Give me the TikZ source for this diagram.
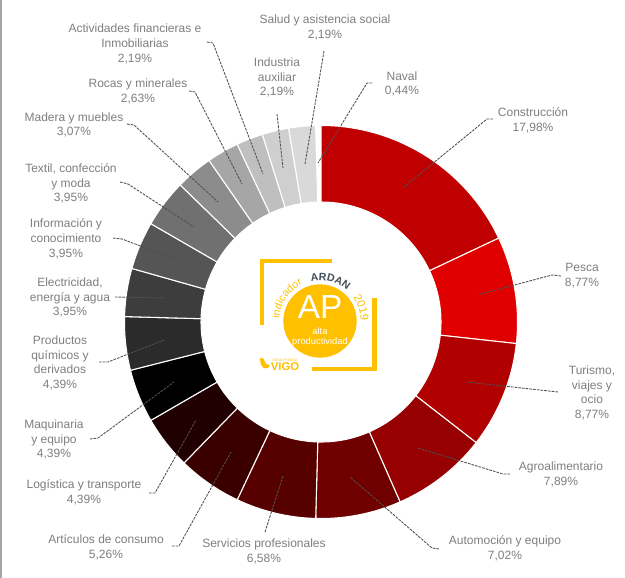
\documentclass[tikz,border=0pt]{standalone}
\usepackage{fontspec}
\setmainfont{Liberation Sans}
\usetikzlibrary{decorations.text}
\definecolor{labelgray}{HTML}{7F7F7F}
\definecolor{leadergray}{HTML}{505050}
\definecolor{logoY}{HTML}{FFC000}
\definecolor{logoD}{HTML}{44505A}
\tikzset{
  lab/.style={align=center,inner sep=0pt,text=labelgray,font=\fontsize{9}{11}\selectfont},
  leader/.style={draw=leadergray,line width=0.65pt,dash pattern=on 2pt off 0.8pt},
  frame/.style={fill=logoY,draw=none},
  sliceedge/.style={draw=white,line width=0.8pt},
}
% start %, end %, colour
\newcommand{\ringseg}[3]{%
  \definecolor{slicefill}{HTML}{#3}%
  \pgfmathsetmacro{\aa}{90-3.6*#1}%
  \pgfmathsetmacro{\bb}{90-3.6*#2}%
  \filldraw[sliceedge,fill=slicefill] (\aa:90pt) -- (\aa:147.4pt)
    arc[start angle=\aa,end angle=\bb,radius=147.4pt] -- (\bb:90pt)
    arc[start angle=\bb,end angle=\aa,radius=90pt] -- cycle;}
\begin{document}
\begin{tikzpicture}[x=.75pt,y=-.75pt]
\useasboundingbox (0,0) rectangle (625,578);
\fill[white] (0,0) rectangle (625,578);
\fill[gray!70] (0,0) rectangle (1.5,578);
% ring
\begin{scope}[shift={(321,322)},x=.75pt,y=.75pt]
\ringseg{0}{17.98}{C00000}
\ringseg{17.98}{26.75}{E00000}
\ringseg{26.75}{35.52}{B00000}
\ringseg{35.52}{43.41}{960000}
\ringseg{43.41}{50.43}{700000}
\ringseg{50.43}{57.01}{560000}
\ringseg{57.01}{62.27}{3A0000}
\ringseg{62.27}{66.66}{200000}
\ringseg{66.66}{71.05}{000000}
\ringseg{71.05}{75.44}{2B2B2B}
\ringseg{75.44}{79.39}{3D3D3D}
\ringseg{79.39}{83.34}{555555}
\ringseg{83.34}{87.29}{707070}
\ringseg{87.29}{90.36}{8C8C8C}
\ringseg{90.36}{92.99}{A6A6A6}
\ringseg{92.99}{95.18}{BFBFBF}
\ringseg{95.18}{97.37}{CFCFCF}
\ringseg{97.37}{99.56}{D9D9D9}
\end{scope}
% logo
\fill[frame] (260,259) rectangle (332,263);
\fill[frame] (260,259) rectangle (264,325);
\fill[frame] (372,298) rectangle (377,371);
\fill[frame] (312,367) rectangle (377,371);
\node[circle,fill=logoY,minimum size=55pt,inner sep=0pt] (disc) at (320,321) {};
\node[inner sep=0pt,text=white,font=\fontsize{25}{25}\selectfont] (ap) at (320,307) {AP};
\node[inner sep=0pt,text=white,font=\fontsize{7}{7.6}\selectfont,align=center] (alta) at (320,337) {alta\\productividad};
\begin{scope}[shift={(320,321)},x=.75pt,y=.75pt]
\path[decorate,decoration={text along path,text align=center,text={|\fontsize{8}{9}\selectfont\color{logoY}|indicador}}]
  (196:30.5pt) arc[start angle=196,end angle=96,radius=30.5pt];
\path[decorate,decoration={text along path,text align=center,text={|\fontsize{8}{9}\selectfont\bfseries\color{logoD}|ARDAN}}]
  (125:30.5pt) arc[start angle=125,end angle=26,radius=30.5pt];
\path[decorate,decoration={text along path,text align=center,text={|\fontsize{8.5}{9}\selectfont\color{logoY}|2019}}]
  (68:30.5pt) arc[start angle=68,end angle=-32,radius=30.5pt];
\end{scope}
\fill[logoY] (260,358) .. controls (268,358) and (261,364) .. (270,365)
  .. controls (268,371) and (260,370) .. (260,358) -- cycle;
\node[inner sep=0pt,text=logoY,font=\fontsize{2.6}{3}\selectfont] (zona) at (285,360) {ZONA FRANCA};
\node[inner sep=0pt,text=logoY,font=\fontsize{8.5}{9}\bfseries\selectfont] (vigo) at (285,367) {VIGO};
% labels
\node[lab] (actividades) at (135,44) {Actividades financieras e\\Inmobiliarias\\2,19\%};
\node[lab] (salud) at (325,27.5) {Salud y asistencia social\\2,19\%};
\node[lab] (industria) at (277,77.5) {Industria\\auxiliar\\2,19\%};
\node[lab] (naval) at (402,84) {Naval\\0,44\%};
\node[lab] (construccion) at (533,120.5) {Construcción\\17,98\%};
\node[lab] (pesca) at (582,275.5) {Pesca\\8,77\%};
\node[lab] (turismo) at (592,393) {Turismo,\\viajes y\\ocio\\8,77\%};
\node[lab] (agro) at (561,474.5) {Agroalimentario\\7,89\%};
\node[lab] (auto) at (505,548.5) {Automoción y equipo\\7,02\%};
\node[lab] (servicios) at (264,551.5) {Servicios profesionales\\6,58\%};
\node[lab] (articulos) at (106,547.5) {Artículos de consumo\\5,26\%};
\node[lab] (logistica) at (84,492.5) {Logística y transporte\\4,39\%};
\node[lab] (maquinaria) at (54,439.5) {Maquinaria\\y equipo\\4,39\%};
\node[lab] (productos) at (60,363) {Productos\\químicos y\\derivados\\4,39\%};
\node[lab] (electricidad) at (70,297.5) {Electricidad,\\energía y agua\\3,95\%};
\node[lab] (informacion) at (66,239) {Información y\\conocimiento\\3,95\%};
\node[lab] (textil) at (71,183.5) {Textil, confección\\y moda\\3,95\%};
\node[lab] (madera) at (74,125) {Madera y muebles\\3,07\%};
\node[lab] (rocas) at (138,91.5) {Rocas y minerales\\2,63\%};
% leader coordinates
\coordinate (s1) at (493,119); \coordinate (m1) at (487,119); \coordinate (e1) at (404,187);
\coordinate (s2) at (561,276); \coordinate (m2) at (552,275); \coordinate (e2) at (477,295);
\coordinate (s3) at (558,392); \coordinate (e3) at (467,382);
\coordinate (s4) at (510,474); \coordinate (m4) at (503,474); \coordinate (e4) at (418,448);
\coordinate (s5) at (439,549); \coordinate (m5) at (432,548); \coordinate (e5) at (350,477);
\coordinate (s6) at (265,532); \coordinate (e6) at (283,476);
\coordinate (s7) at (172,546); \coordinate (m7) at (179,546); \coordinate (e7) at (231,452);
\coordinate (s8) at (149,493); \coordinate (m8) at (155,493); \coordinate (e8) at (196,420);
\coordinate (s9) at (90,439); \coordinate (m9) at (98,438); \coordinate (e9) at (174,382);
\coordinate (s10) at (99,362); \coordinate (m10) at (108,362); \coordinate (e10) at (164,340);
\coordinate (s11) at (115,297); \coordinate (e11) at (165,298);
\coordinate (s12) at (113,238); \coordinate (m12) at (122,239); \coordinate (e12) at (175,259);
\coordinate (s13) at (120,182); \coordinate (m13) at (128,184); \coordinate (e13) at (194,227);
\coordinate (s14) at (127,124); \coordinate (m14) at (134,125); \coordinate (e14) at (218,202);
\coordinate (s15) at (189,91); \coordinate (m15) at (195,92); \coordinate (e15) at (242,184);
\coordinate (s16) at (207,42); \coordinate (m16) at (213,43); \coordinate (e16) at (263,174);
\coordinate (s17) at (277,114); \coordinate (e17) at (283,168);
\coordinate (s18) at (324,51); \coordinate (e18) at (305,164);
\coordinate (s19) at (372,83); \coordinate (m19) at (367,83); \coordinate (e19) at (318,163);
% leaders
\foreach \i in {1,2,4,5,7,8,9,10,12,13,14,15,16,19}
  \draw[leader] (s\i) -- (m\i) -- (e\i);
\foreach \i in {3,6,11,17,18}
  \draw[leader] (s\i) -- (e\i);
\end{tikzpicture}
\end{document}
